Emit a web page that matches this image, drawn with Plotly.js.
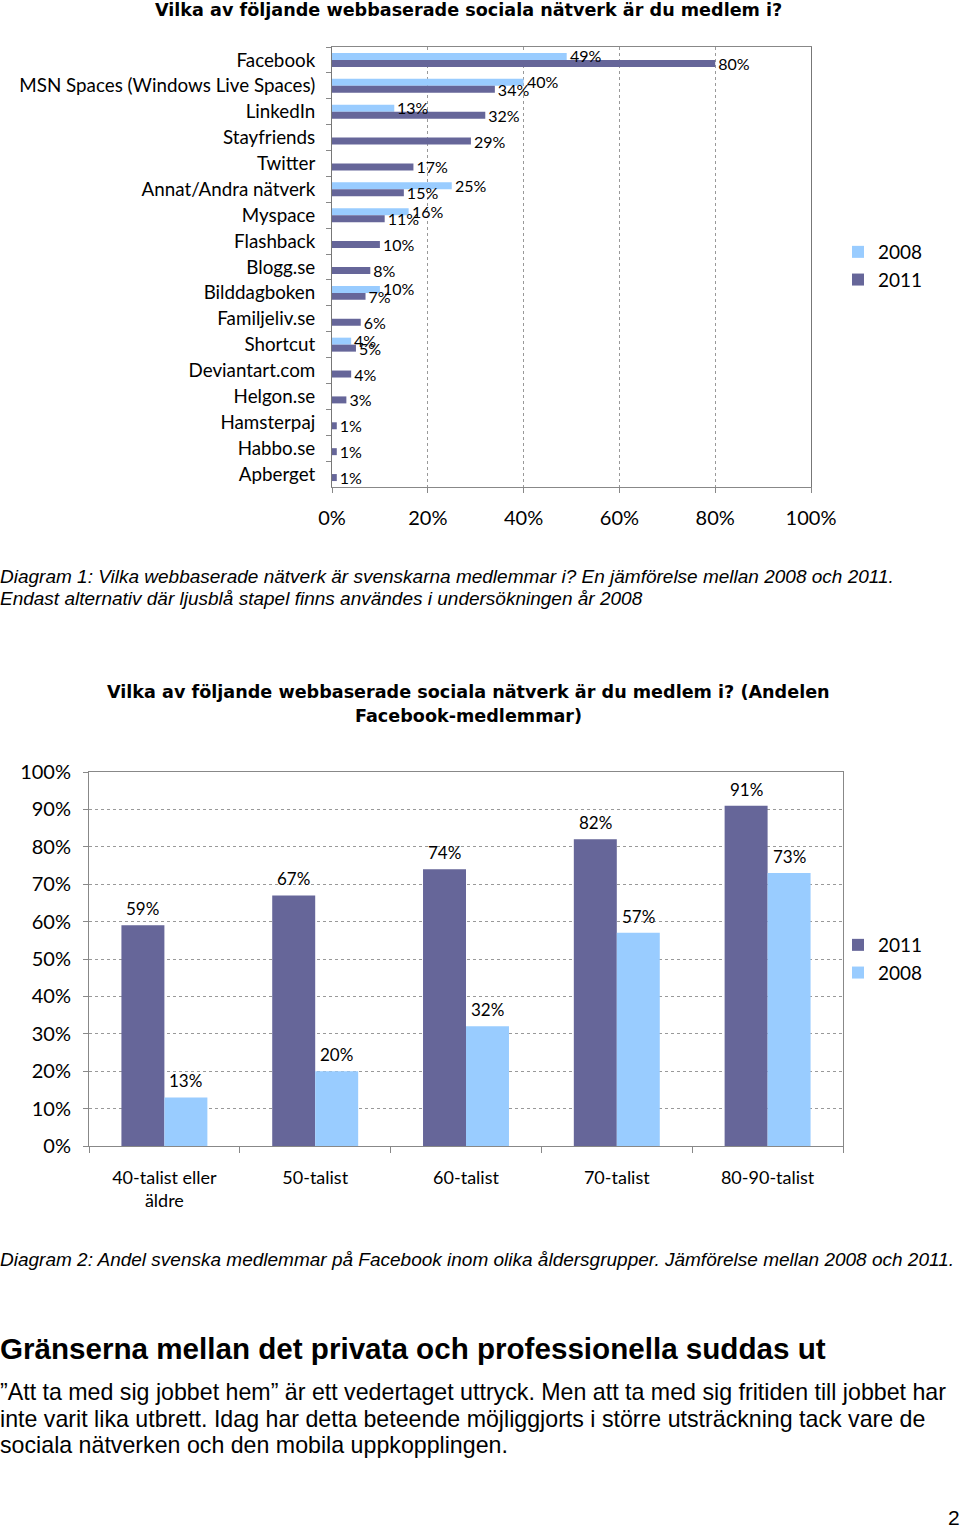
<!DOCTYPE html>
<html>
<head>
<meta charset="utf-8">
<script src="https://cdn.plot.ly/plotly-3.0.1.min.js"></script>
<style>
html,body{margin:0;padding:0;background:#fff;}
#page{width:960px;height:1529px;}
</style>
</head>
<body>
<div id="page"></div>
<script>
// ---- Data ----
const networks = ['Facebook','MSN Spaces (Windows Live Spaces)','LinkedIn','Stayfriends','Twitter','Annat/Andra nätverk','Myspace','Flashback','Blogg.se','Bilddagboken','Familjeliv.se','Shortcut','Deviantart.com','Helgon.se','Hamsterpaj','Habbo.se','Apberget'];
const net2011 = [80,34,32,29,17,15,11,10,8,7,6,5,4,3,1,1,1];
const net2008 = [49,40,13,null,null,25,16,null,null,10,null,4,null,null,null,null,null];

const ageGroups = ['40-talist eller<br>äldre','50-talist','60-talist','70-talist','80-90-talist'];
const fb2011 = [59,67,74,82,91];
const fb2008 = [13,20,32,57,73];

const seriesNames = ['2008','2011'];

// ---- Styling ----
const W = 960, H = 1529;
const px = p => p / W;
const py = p => 1 - p / H;
const DARK = '#666699', LIGHT = '#99CCFF';
const CF = 'Lato, "Open Sans", sans-serif';
const TF = '"DejaVu Sans", Verdana, sans-serif';
const AF = '"Liberation Sans", Arial, sans-serif';
const BW2 = 0.285; // bar width (category units) in chart 2
const CAT2PX = 754 / 5; // px per category in chart 2

const traces = [
  {type:'bar', orientation:'h', name:seriesNames[0], x:net2008, y:networks, xaxis:'x', yaxis:'y',
   marker:{color:LIGHT}, offset:-0.27, width:0.27, legend:'legend', hoverinfo:'skip'},
  {type:'bar', orientation:'h', name:seriesNames[1], x:net2011, y:networks, xaxis:'x', yaxis:'y',
   marker:{color:DARK}, offset:0, width:0.27, texttemplate:'%{x}', textposition:'outside',
   constraintext:'none', cliponaxis:false, textfont:{family:CF, size:16, color:'#000'}, legend:'legend', hoverinfo:'skip'},
  {type:'bar', name:seriesNames[1], x:ageGroups, y:fb2011, xaxis:'x2', yaxis:'y2',
   marker:{color:DARK}, offset:-BW2, width:BW2, legend:'legend2', hoverinfo:'skip'},
  {type:'bar', name:seriesNames[0], x:ageGroups, y:fb2008, xaxis:'x2', yaxis:'y2',
   marker:{color:LIGHT}, offset:0, width:BW2, legend:'legend2', hoverinfo:'skip'}
];

function ann(text, x, y, opts){
  return Object.assign({text:text, x:x, y:y, xref:'paper', yref:'paper', showarrow:false,
    xanchor:'left', yanchor:'middle', font:{family:AF, size:18, color:'#000'}}, opts||{});
}

const annotations = [
  ann('<b>Vilka av följande webbaserade sociala nätverk är du medlem i?</b>', px(468), py(10), {xanchor:'center', font:{family:TF, size:17.6, color:'#000'}}),
  ann('<i>Diagram 1: Vilka webbaserade nätverk är svenskarna medlemmar i? En jämförelse mellan 2008 och 2011.</i>', px(-2), py(576), {font:{family:AF, size:19, color:'#000'}}),
  ann('<i>Endast alternativ där ljusblå stapel finns användes i undersökningen år 2008</i>', px(-2), py(598), {font:{family:AF, size:19, color:'#000'}}),
  ann('<b>Vilka av följande webbaserade sociala nätverk är du medlem i? (Andelen</b>', px(468), py(692), {xanchor:'center', font:{family:TF, size:17.6, color:'#000'}}),
  ann('<b>Facebook-medlemmar)</b>', px(468), py(716), {xanchor:'center', font:{family:TF, size:17.6, color:'#000'}}),
  ann('<i>Diagram 2: Andel svenska medlemmar på Facebook inom olika åldersgrupper. Jämförelse mellan 2008 och 2011.</i>', px(-2), py(1259), {font:{family:AF, size:19, color:'#000'}}),
  ann('<b>Gränserna mellan det privata och professionella suddas ut</b>', px(-2), py(1348), {font:{family:AF, size:29.6, color:'#000'}}),
  ann('”Att ta med sig jobbet hem” är ett vedertaget uttryck. Men att ta med sig fritiden till jobbet har', px(-2), py(1392), {font:{family:AF, size:23.2, color:'#000'}}),
  ann('inte varit lika utbrett. Idag har detta beteende möjliggjorts i större utsträckning tack vare de', px(-2), py(1419), {font:{family:AF, size:23.2, color:'#000'}}),
  ann('sociala nätverken och den mobila uppkopplingen.', px(-2), py(1445), {font:{family:AF, size:23.2, color:'#000'}}),
  ann('2', px(962), py(1517), {xanchor:'right', font:{family:AF, size:21, color:'#000'}})
];

// value labels for the 2008 bars in chart 1 (drawn above the 2011 bars)
networks.forEach((n, i) => {
  if (net2008[i] == null) return;
  annotations.push({text: net2008[i] + '%', x: net2008[i], y: n, xref:'x', yref:'y', showarrow:false,
    xanchor:'left', yanchor:'middle', xshift: 1, yshift: 4,
    font:{family:CF, size:16, color:'#000'}});
});

// value labels above chart-2 bars, anchored to data coordinates
ageGroups.forEach((g, i) => {
  annotations.push({text: fb2011[i] + '%', x: g, y: fb2011[i], xref:'x2', yref:'y2', showarrow:false,
    xanchor:'center', yanchor:'bottom', xshift: -BW2 * CAT2PX / 2, yshift: 4,
    font:{family:CF, size:17, color:'#000'}});
  annotations.push({text: fb2008[i] + '%', x: g, y: fb2008[i], xref:'x2', yref:'y2', showarrow:false,
    xanchor:'center', yanchor:'bottom', xshift: BW2 * CAT2PX / 2, yshift: 4,
    font:{family:CF, size:17, color:'#000'}});
});

const layout = {
  width: W, height: H,
  margin:{l:0, r:0, t:0, b:0},
  paper_bgcolor:'#fff', plot_bgcolor:'#fff',
  barmode:'group',
  showlegend:true,
  font:{family:CF, color:'#000'},
  xaxis:{domain:[px(332), px(811)], anchor:'y', range:[0,100], dtick:20, ticksuffix:'%',
    showgrid:true, gridcolor:'#999', griddash:'dot', gridwidth:1, zeroline:false,
    showline:true, linecolor:'#888', mirror:true, ticks:'outside', ticklen:5, tickcolor:'#888',
    tickfont:{family:CF, size:20, color:'#000'}, ticklabelstandoff:8, fixedrange:true},
  yaxis:{domain:[py(487), py(47)], anchor:'x', type:'category', autorange:'reversed',
    showgrid:false, zeroline:false, showline:true, linecolor:'#777', mirror:true,
    ticks:'outside', tickson:'boundaries', ticklen:5, tickcolor:'#888',
    tickfont:{family:CF, size:18.8, color:'#000'}, ticklabelstandoff:12, fixedrange:true},
  xaxis2:{domain:[px(89), px(843)], anchor:'y2', type:'category',
    showgrid:false, zeroline:false, showline:true, linecolor:'#888', mirror:true,
    ticks:'outside', tickson:'boundaries', ticklen:6, tickcolor:'#888',
    tickfont:{family:CF, size:18, color:'#000'}, ticklabelstandoff:15, fixedrange:true},
  yaxis2:{domain:[py(1146), py(772)], anchor:'x2', range:[0,100], dtick:10, ticksuffix:'%',
    showgrid:true, gridcolor:'#999', griddash:'dot', gridwidth:1, zeroline:false,
    showline:true, linecolor:'#888', mirror:true, ticks:'outside', ticklen:5, tickcolor:'#888',
    tickfont:{family:CF, size:20, color:'#000'}, ticklabelstandoff:8, fixedrange:true},
  legend:{x:px(838), y:py(233), xanchor:'left', yanchor:'top', bgcolor:'rgba(0,0,0,0)',
    font:{family:CF, size:19, color:'#000'}, traceorder:'normal'},
  legend2:{x:px(838), y:py(926), xanchor:'left', yanchor:'top', bgcolor:'rgba(0,0,0,0)',
    font:{family:CF, size:19, color:'#000'}, traceorder:'normal'},
  annotations: annotations
};

Plotly.newPlot('page', traces, layout, {staticPlot:true, displayModeBar:false});
</script>
</body>
</html>
